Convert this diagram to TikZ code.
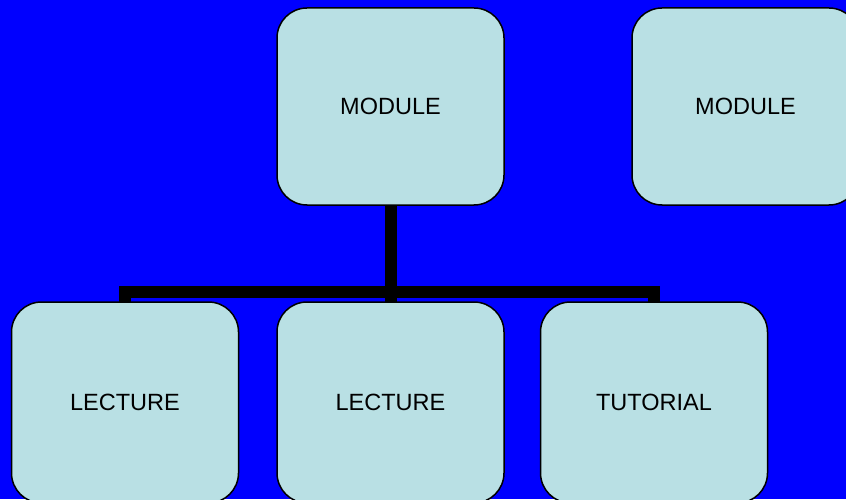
\documentclass[tikz,border=0pt]{standalone}
\usepackage{fontspec}
\setmainfont{Liberation Sans}
\definecolor{bg}{RGB}{0,0,255}
\definecolor{boxfill}{RGB}{185,224,228}
\begin{document}
\begin{tikzpicture}[x=1pt,y=1pt,
  box/.style={draw=black,line width=1.5pt,fill=boxfill,rounded corners=30pt,
    minimum width=227pt,minimum height=197pt,inner sep=0pt,outer sep=0pt,
    font=\fontsize{23.5}{26}\selectfont},
  lowbox/.style={box,minimum height=201pt},
  conn/.style={draw=black,line width=12pt,line cap=butt,line join=miter}]
\useasboundingbox (0,0) rectangle (846,499);
\fill[bg] (0,0) rectangle (846,499);
\clip (0,0) rectangle (846,499);
\node[box] (m1) at (390.5,392.5) {MODULE};
\node[box] (m2) at (745.5,392.5) {MODULE};
\node[lowbox] (l1) at (125,96.5) {LECTURE};
\node[lowbox] (l2) at (390.5,96.5) {LECTURE};
\node[lowbox] (t) at (654,96.5) {TUTORIAL};
\draw[conn] (m1.south) -- (l2.north);
\draw[conn] (l1.north) -- ([yshift=10pt]l1.north) -| (t.north);
\end{tikzpicture}
\end{document}
